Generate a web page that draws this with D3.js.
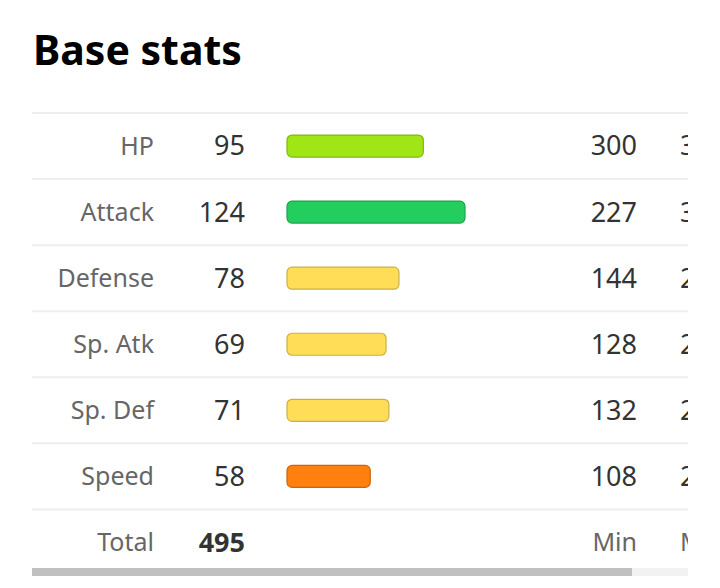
<!DOCTYPE html>
<html><head><meta charset="utf-8">
<script src="https://cdn.jsdelivr.net/npm/d3@7"></script>
<style>body{margin:0;background:#fff}</style></head>
<body><svg id="c" width="720" height="588"></svg>
<script>
const stats = ["HP","Attack","Defense","Sp. Atk","Sp. Def","Speed"];
const values = [95,124,78,69,71,58];
const mins = [300,227,144,128,132,108];
const maxs = [394,306,287,269,273,238];
const colors = ["#a0e515","#23cd5e","#ffdd57","#ffdd57","#ffdd57","#ff7f0f"];
const strokes = ["#80b80f","#1ba44b","#ccb045","#ccb045","#ccb045","#cc660b"];
const total = 495;

const svg = d3.select("#c");
const font = "'Noto Sans', sans-serif";
svg.append("text").attr("x",33).attr("y",65).text("Base stats")
  .attr("font-family",font).attr("font-weight",700).attr("font-size",41).attr("fill","#000");

const y = d3.scaleBand().domain([...stats,"Total"]).range([113,575.5]).padding(0);
const x = d3.scaleLinear().domain([0,255]).range([0,366]);
svg.append("clipPath").attr("id","cl").append("rect").attr("x",0).attr("y",0).attr("width",688).attr("height",588);
const g = svg.append("g").attr("clip-path","url(#cl)");

const rows = [...stats,"Total"];
rows.forEach((s,i)=>{
  const top = y(s), cy = top + y.bandwidth()/2;
  g.append("line").attr("x1",32).attr("x2",688).attr("y1",top).attr("y2",top).attr("stroke","#eeeeee").attr("stroke-width",2);
  const isT = s==="Total";
  g.append("text").attr("x",154).attr("y",cy).attr("dy","0.35em").attr("text-anchor","end")
    .attr("font-family",font).attr("font-size",25).attr("fill","#666").text(s);
  g.append("text").attr("x",245).attr("y",cy).attr("dy","0.35em").attr("text-anchor","end")
    .attr("font-family",font).attr("font-size",27).attr("font-weight",isT?700:400).attr("fill","#333")
    .text(isT?total:values[i]);
  if(!isT){
    g.append("rect").attr("x",287).attr("y",cy-11).attr("width",x(values[i])).attr("height",22)
      .attr("rx",5).attr("fill",colors[i]).attr("stroke",strokes[i]).attr("stroke-width",1.2);
  }
  g.append("text").attr("x",637).attr("y",cy).attr("dy","0.35em").attr("text-anchor","end")
    .attr("font-family",font).attr("font-size",isT?25:27).attr("fill",isT?"#666":"#333").text(isT?"Min":mins[i]);
  g.append("text").attr("x",680).attr("y",cy).attr("dy","0.35em").attr("text-anchor","start")
    .attr("font-family",font).attr("font-size",isT?25:27).attr("fill",isT?"#666":"#333").text(isT?"Max":maxs[i]);
});
svg.append("rect").attr("x",32).attr("y",568).attr("width",656).attr("height",8).attr("fill","#f2f2f2");
svg.append("rect").attr("x",32).attr("y",568).attr("width",600).attr("height",8).attr("fill","#c0c0c0");
</script></body></html>
